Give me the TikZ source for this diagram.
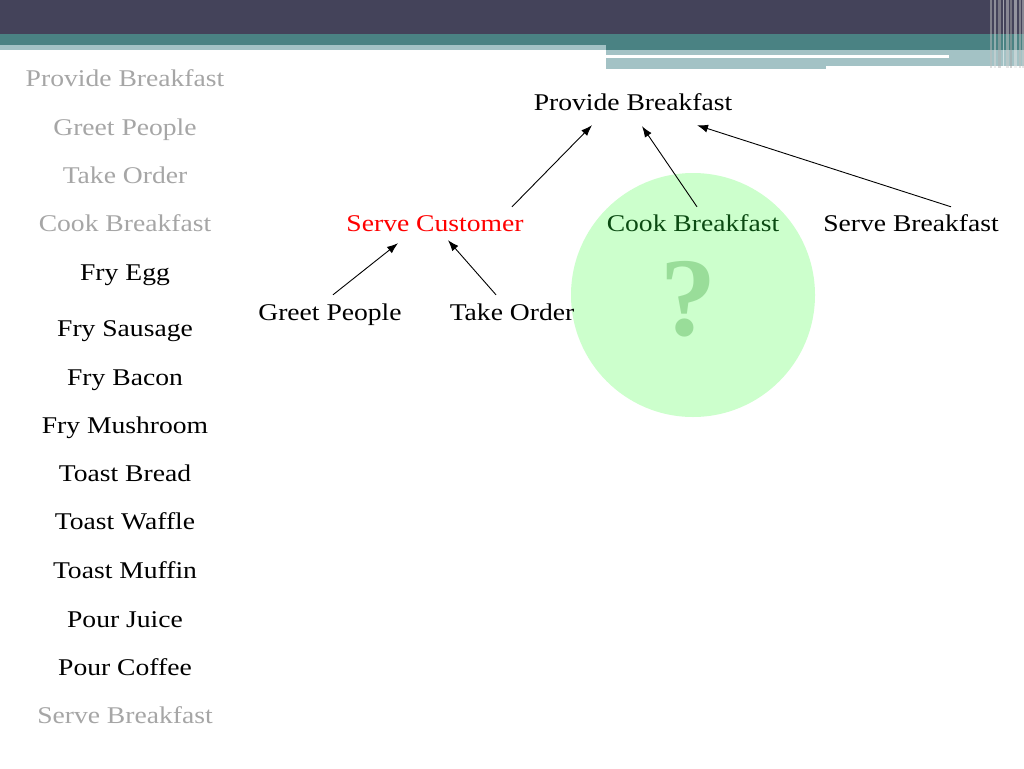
\documentclass[tikz,border=0pt]{standalone}
\usepackage{fontspec}
\setmainfont[FakeStretch=1.15]{Liberation Serif}
\newfontfamily\qfont{Liberation Serif}
\usetikzlibrary{arrows.meta,calc}
\definecolor{hdark}{HTML}{44435A}
\definecolor{hteal}{HTML}{4A8283}
\definecolor{hlight}{HTML}{A3C2C5}
\definecolor{greytxt}{HTML}{A6A6A6}
\definecolor{dgreen}{HTML}{0B4A12}
\definecolor{circfill}{HTML}{CCFFCC}
\definecolor{qcol}{HTML}{99DD99}
\begin{document}
\begin{tikzpicture}[x=1pt,y=-1pt,
  txt/.style={font=\fontsize{24}{28}\selectfont, inner sep=0pt, text height=17pt, text depth=5pt, anchor=center},
  grey/.style={txt, text=greytxt},
  arr/.style={-{Latex[length=11pt,width=8pt]}, line width=0.9pt, black}]
\useasboundingbox (0,0) rectangle (1024,768);
\fill[white] (0,0) rectangle (1024,768);
% header
\fill[hdark] (0,0) rectangle (1024,34);
\fill[hteal] (0,34) rectangle (1024,45);
\fill[hlight] (0,45) rectangle (606,50);
\fill[hteal] (606,45) rectangle (1024,50);
\fill[hlight] (606,50) rectangle (1024,66);
\fill[hlight] (606,66) rectangle (826,69);
\fill[white] (606,55.5) rectangle (949,58);
% right stripes
\foreach \xx/\ww/\cc in {990/2/gray!50, 994/1.5/white!70!gray, 998/3/gray!60, 1003/1/white, 1006/2.5/gray!40, 1010/1.5/gray!70, 1014/3/white!80!gray, 1019/1.5/gray!50, 1022/2/white!60!gray}
  \fill[\cc, opacity=0.5] (\xx,0) rectangle ++(\ww,68);
% circle
\fill[circfill] (693,295) circle[radius=122];
\node[inner sep=0pt, text=qcol, font=\qfont\bfseries\fontsize{112}{112}\selectfont] (q) at (688,299) {?};
% left column
\node[grey] (l1) at (125,80) {Provide Breakfast};
\node[grey] (l2) at (125,129) {Greet People};
\node[grey] (l3) at (125,177) {Take Order};
\node[grey] (l4) at (125,225) {Cook Breakfast};
\node[txt] (l5) at (125,274) {Fry Egg};
\node[txt] (l6) at (125,330) {Fry Sausage};
\node[txt] (l7) at (125,379) {Fry Bacon};
\node[txt] (l8) at (125,427) {Fry Mushroom};
\node[txt] (l9) at (125,475) {Toast Bread};
\node[txt] (l10) at (125,523) {Toast Waffle};
\node[txt] (l11) at (125,572) {Toast Muffin};
\node[txt] (l12) at (125,621) {Pour Juice};
\node[txt] (l13) at (125,669) {Pour Coffee};
\node[grey] (l14) at (125,717) {Serve Breakfast};
% tree
\node[txt] (pb) at (633,104) {Provide Breakfast};
\node[txt, text=red] (sc) at (435,225) {Serve Customer};
\node[txt, text=dgreen] (cb) at (693,225) {Cook Breakfast};
\node[txt] (sb) at (911,225) {Serve Breakfast};
\node[txt] (gp) at (330,314) {Greet People};
\node[txt] (to) at (512,314) {Take Order};
\draw[arr] ($(sc.north)+(77,-7)$) -- ($(pb.south)+(-41,10)$);
\draw[arr] ($(cb.north)+(4,-7)$) -- ($(pb.south)+(9,11)$);
\draw[arr] ($(sb.north)+(40,-7)$) -- ($(pb.south)+(64,10)$);
\draw[arr] ($(gp.north)+(3,-8)$) -- ($(sc.south)+(-37,7)$);
\draw[arr] ($(to.north)+(-16,-8)$) -- ($(sc.south)+(13,4)$);
\end{tikzpicture}
\end{document}
